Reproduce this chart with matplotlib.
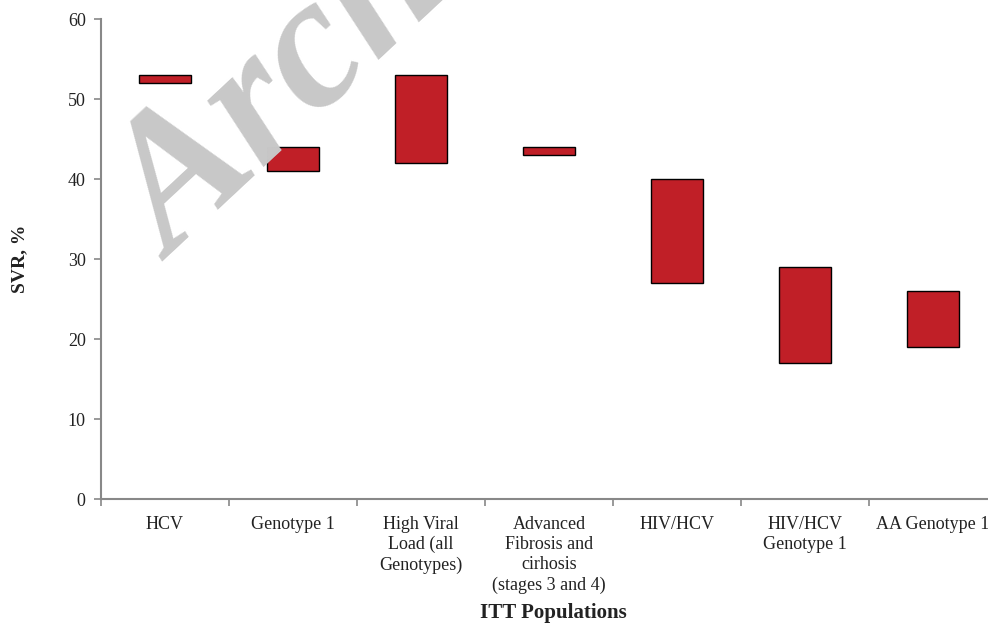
import matplotlib
matplotlib.use("Agg")
import matplotlib.pyplot as plt
import numpy as np

categories = ["HCV", "Genotype 1", "High Viral\nLoad (all\nGenotypes)",
              "Advanced\nFibrosis and\ncirhosis\n(stages 3 and 4)",
              "HIV/HCV", "HIV/HCV\nGenotype 1", "AA Genotype 1"]
low = [52, 41, 42, 43, 27, 17, 19]
high = [53, 44, 53, 44, 40, 29, 26]
y_ticks = [0, 10, 20, 30, 40, 50, 60]

W, H = 988, 624
fig = plt.figure(figsize=(W / 100, H / 100), dpi=100)
left_px, right_px, top_px, bot_px = 101, 997, 19, 499
ax = fig.add_axes([left_px / W, 1 - bot_px / H, (right_px - left_px) / W, (bot_px - top_px) / H])

serif = "Liberation Serif"

# watermark
fig.text(172 / W, 1 - 262 / H, "Archive", fontsize=136, family=serif, style="italic",
         weight="bold", color="#c8c8c8", rotation=43, rotation_mode="anchor",
         ha="left", va="baseline", zorder=0)
ax.set_facecolor("none")

x = np.arange(len(categories))
heights = [h - l for h, l in zip(high, low)]
ax.bar(x, heights, bottom=low, width=0.4, color="#C01F27", edgecolor="black",
       linewidth=1.0, zorder=3)

ax.set_xlim(-0.5, len(categories) - 0.5)
ax.set_ylim(0, 60)
ax.set_yticks(y_ticks)
ax.set_yticklabels([str(v) for v in y_ticks], family=serif, fontsize=13, color="#222222")

ax.set_xticks(np.arange(len(categories) + 1) - 0.5)
ax.set_xticklabels([])
ax.set_xticks(x, minor=True)
ax.set_xticklabels(categories, minor=True, family=serif, fontsize=13, color="#222222",
                   linespacing=1.25, va="top")
ax.tick_params(axis="x", which="minor", length=0, pad=12)
ax.tick_params(axis="x", which="major", length=5, color="#888888", width=1.2)
ax.tick_params(axis="y", length=5, color="#888888", width=1.2, pad=6)

for s in ["top", "right"]:
    ax.spines[s].set_visible(False)
for s in ["left", "bottom"]:
    ax.spines[s].set_color("#888888")
    ax.spines[s].set_linewidth(1.5)

fig.text(553 / W, 1 - 613 / H, "ITT Populations", family=serif, weight="bold",
         fontsize=15, ha="center", va="center", color="#222222")
fig.text(20 / W, 1 - 259 / H, "SVR, %", family=serif, weight="bold", fontsize=14,
         rotation=90, ha="center", va="center", color="#222222")

fig.savefig("out.png", dpi=100)
